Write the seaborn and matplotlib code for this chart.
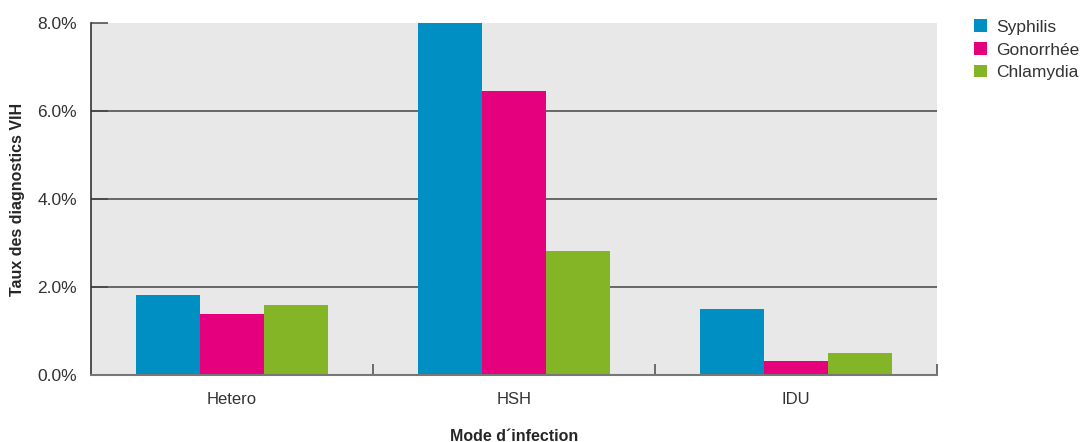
import pandas as pd
import seaborn as sns
import matplotlib.pyplot as plt
from matplotlib.ticker import FuncFormatter, FixedLocator

modes = ['Hetero', 'HSH', 'IDU']
ist = ['Syphilis', 'Gonorrhée', 'Chlamydia']
syphilis = [1.82, 8.0, 1.50]
gonorrhee = [1.39, 6.45, 0.32]
chlamydia = [1.59, 2.82, 0.50]
colors = ['#008FC3', '#E5007D', '#84B526']

rows = []
for name, vals in zip(ist, [syphilis, gonorrhee, chlamydia]):
    for m, v in zip(modes, vals):
        rows.append({'mode': m, 'ist': name, 'taux': v})
df = pd.DataFrame(rows)

sns.set_style('white')
plt.rcParams['font.family'] = ['Liberation Sans', 'DejaVu Sans']

fig = plt.figure(figsize=(10.82, 4.42), dpi=100)
ax = fig.add_axes([91 / 1082, 1 - 375 / 442, (937 - 91) / 1082, (375 - 23) / 442])
ax.set_facecolor('#e8e8e8')

sns.barplot(data=df, x='mode', y='taux', hue='ist', palette=colors,
            width=0.68, saturation=1, linewidth=0, ax=ax, zorder=2)

ax.set_xlim(-0.5, 2.5)
ax.set_ylim(0, 8)
ax.set_yticks([0, 2, 4, 6, 8])
ax.yaxis.set_major_formatter(FuncFormatter(lambda v, p: f'{v:.1f}%'))
ax.tick_params(axis='y', left=True, direction='in', length=12, width=1.1, color='#444444',
               labelsize=12.5, labelcolor='#333333', pad=10)
ax.tick_params(axis='x', length=0, labelsize=12, labelcolor='#333333', pad=12)
ax.xaxis.set_minor_locator(FixedLocator([0.5, 1.5, 2.5]))
ax.tick_params(axis='x', which='minor', bottom=True, direction='in', length=8, width=1.2,
               color='#555555')

for y in [2, 4, 6]:
    ax.axhline(y, color='#444444', lw=1.1, zorder=1)

for s in ['top', 'right']:
    ax.spines[s].set_visible(False)
ax.spines['left'].set_color('#333333')
ax.spines['left'].set_linewidth(1.2)
ax.spines['bottom'].set_color('#777777')
ax.spines['bottom'].set_linewidth(1.5)
ax.spines['bottom'].set_zorder(3)

ax.set_xlabel('Mode d\u00b4infection', fontsize=11.5, fontweight='bold', labelpad=16)
ax.set_ylabel('Taux des diagnostics VIH', fontsize=11.5, fontweight='bold', labelpad=9)

leg = ax.legend(loc='upper left', bbox_to_anchor=(1.036, 1.03), frameon=False,
                fontsize=12.5, handlelength=0.7, handleheight=0.7, handletextpad=0.55,
                labelspacing=0.45, borderaxespad=0)
for t in leg.get_texts():
    t.set_color('#333333')

fig.savefig('out.png', dpi=100)
